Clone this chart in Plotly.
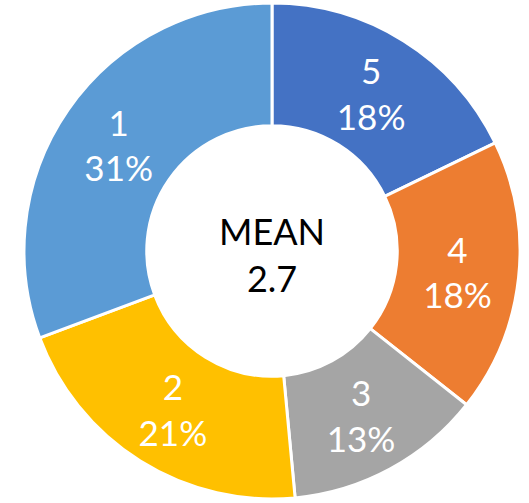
import plotly.graph_objects as go

# Rating distribution (share of responses, %)
ratings = ["5", "4", "3", "2", "1"]
shares = [18, 18, 13, 21, 31]
colors = ["#4472C4", "#ED7D31", "#A5A5A5", "#FFC000", "#5B9BD5"]
mean_label = "MEAN"
mean_value = 2.7

W, H = 529, 503
cx, cy, r = 272, 251, 248  # pixel centre (from top) and outer radius

fig = go.Figure(
    go.Pie(
        labels=ratings,
        values=shares,
        text=[f"{s}%" for s in shares],
        texttemplate="%{label}<br>%{text}",
        textinfo="text",
        textposition="inside",
        insidetextorientation="horizontal",
        textfont=dict(family="Lato", size=35, color="white"),
        marker=dict(colors=colors, line=dict(color="white", width=3)),
        hole=0.505,
        sort=False,
        direction="clockwise",
        rotation=0,
        hoverinfo="label+percent",
        domain=dict(
            x=[(cx - r) / W, (cx + r) / W],
            y=[(H - cy - r) / H, (H - cy + r) / H],
        ),
    )
)

fig.add_annotation(
    x=cx / W,
    y=(H - cy - 4) / H,
    xref="paper",
    yref="paper",
    text=f"{mean_label}<br>{mean_value}",
    showarrow=False,
    font=dict(family="Lato", size=36, color="black"),
    align="center",
)

fig.update_layout(
    width=W,
    height=H,
    margin=dict(l=0, r=0, t=0, b=0),
    showlegend=False,
    paper_bgcolor="white",
    plot_bgcolor="white",
)

fig.write_html("out.html")
